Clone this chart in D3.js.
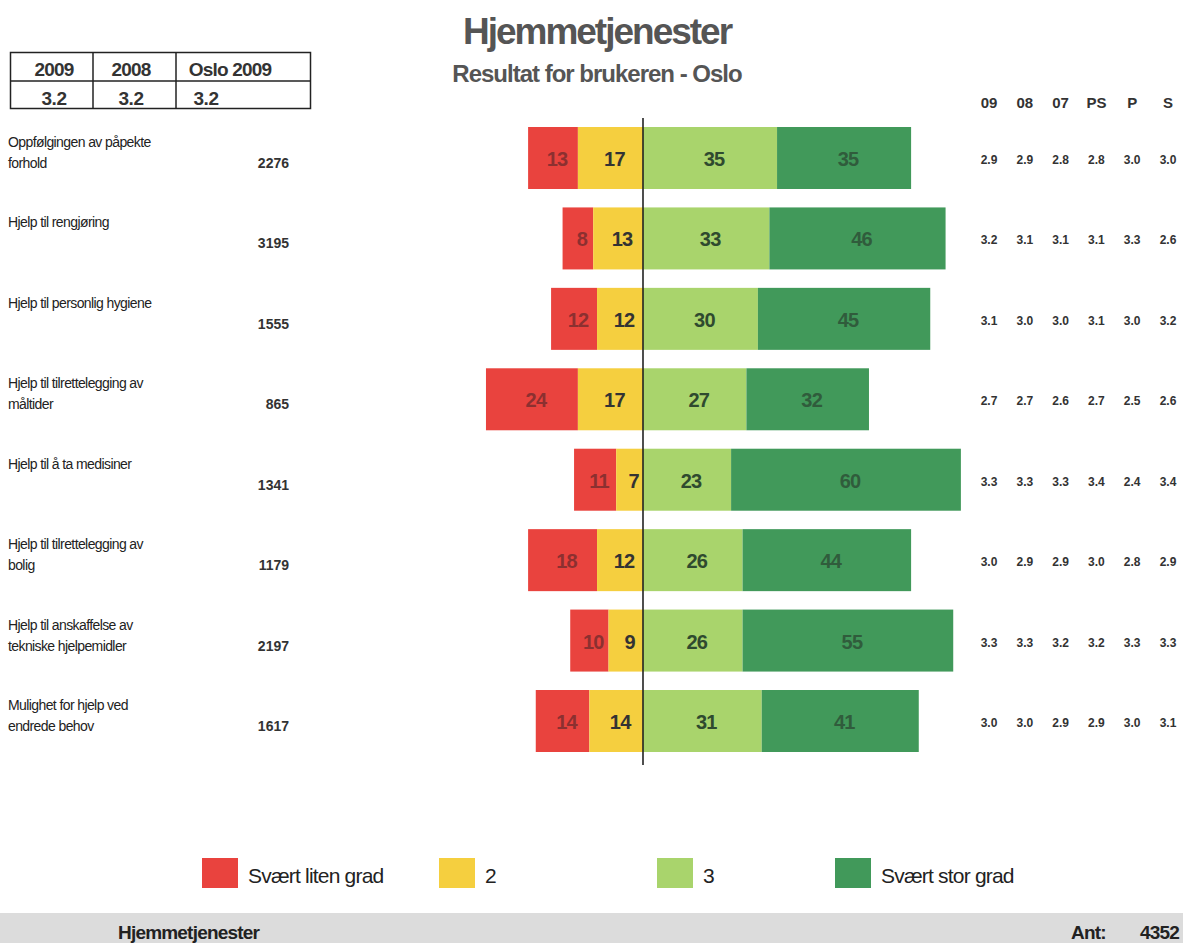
<!DOCTYPE html>
<html>
<head>
<meta charset="utf-8">
<script src="https://cdn.jsdelivr.net/npm/d3@7"></script>
<style>
  body { margin: 0; background: #fff; }
  svg text { font-family: "Liberation Sans", Arial, sans-serif; }
</style>
</head>
<body>
<div class="chart"></div>
<script>
// data
const labels = [
  ["Oppfølgingen av påpekte", "forhold"],
  ["Hjelp til rengjøring"],
  ["Hjelp til personlig hygiene"],
  ["Hjelp til tilrettelegging av", "måltider"],
  ["Hjelp til å ta medisiner"],
  ["Hjelp til tilrettelegging av", "bolig"],
  ["Hjelp til anskaffelse av", "tekniske hjelpemidler"],
  ["Mulighet for hjelp ved", "endrede behov"]
];
const counts = [2276, 3195, 1555, 865, 1341, 1179, 2197, 1617];
const red    = [13, 8, 12, 24, 11, 18, 10, 14];
const yellow = [17, 13, 12, 17, 7, 12, 9, 14];
const light  = [35, 33, 30, 27, 23, 26, 26, 31];
const dark   = [35, 46, 45, 32, 60, 44, 55, 41];
const colHeads = ["09", "08", "07", "PS", "P", "S"];
const colVals = [
  ["2.9", "2.9", "2.8", "2.8", "3.0", "3.0"],
  ["3.2", "3.1", "3.1", "3.1", "3.3", "2.6"],
  ["3.1", "3.0", "3.0", "3.1", "3.0", "3.2"],
  ["2.7", "2.7", "2.6", "2.7", "2.5", "2.6"],
  ["3.3", "3.3", "3.3", "3.4", "2.4", "3.4"],
  ["3.0", "2.9", "2.9", "3.0", "2.8", "2.9"],
  ["3.3", "3.3", "3.2", "3.2", "3.3", "3.3"],
  ["3.0", "3.0", "2.9", "2.9", "3.0", "3.1"]
];
const tableHeads = ["2009", "2008", "Oslo 2009"];
const tableVals = ["3.2", "3.2", "3.2"];
const legendNames = ["Svært liten grad", "2", "3", "Svært stor grad"];
const totalAnt = 4352;

const colors = ["#e9433e", "#f5cf3f", "#a9d46c", "#41995a"];
const textColors = ["#8c3030", "#333", "#2f4a2f", "#305c3c"];

const width = 1183, height = 943;
const svg = d3.select(".chart").append("svg")
  .attr("width", width).attr("height", height);

// scales
const x = d3.scaleLinear().domain([-40, 70]).range([489.8, 911.1]);
const y = d3.scalePoint().domain(d3.range(labels.length)).range([158, 721]);
const barH = 62;
const colX = d3.scalePoint().domain(colHeads).range([989, 1168]);

// titles
svg.append("text").attr("x", 597).attr("y", 44).attr("text-anchor", "middle")
  .attr("font-size", 37).attr("font-weight", "bold").attr("fill", "#555")
  .attr("letter-spacing", -2).text("Hjemmetjenester");
svg.append("text").attr("x", 597).attr("y", 82).attr("text-anchor", "middle")
  .attr("font-size", 24).attr("font-weight", "bold").attr("fill", "#555")
  .attr("letter-spacing", -1).text("Resultat for brukeren - Oslo");

// small table at top left
const tbl = svg.append("g");
tbl.append("rect").attr("x", 10.5).attr("y", 52.5).attr("width", 300).attr("height", 56)
  .attr("fill", "none").attr("stroke", "#222").attr("stroke-width", 1.5);
tbl.append("line").attr("x1", 10).attr("x2", 311).attr("y1", 81).attr("y2", 81)
  .attr("stroke", "#222").attr("stroke-width", 1.5);
[93, 176].forEach(v => tbl.append("line").attr("x1", v).attr("x2", v)
  .attr("y1", 52).attr("y2", 109).attr("stroke", "#222").attr("stroke-width", 1.5));
const tcx = [54, 131, 230];
tableHeads.forEach((t, i) => tbl.append("text").attr("x", tcx[i]).attr("y", 76)
  .attr("text-anchor", "middle").attr("font-size", 19).attr("font-weight", "bold")
  .attr("fill", "#333").attr("letter-spacing", -0.8).text(t));
const tvx = [54, 131, 206];
tableVals.forEach((t, i) => tbl.append("text").attr("x", tvx[i]).attr("y", 105)
  .attr("text-anchor", "middle").attr("font-size", 19).attr("font-weight", "bold")
  .attr("fill", "#333").attr("letter-spacing", -0.5).text(t));

// column headers on the right
svg.selectAll(".colhead").data(colHeads).enter().append("text")
  .attr("x", d => colX(d)).attr("y", 108).attr("text-anchor", "middle")
  .attr("font-size", 15).attr("font-weight", "bold").attr("fill", "#333").text(d => d);

// rows
const rows = svg.selectAll(".row").data(labels).enter().append("g")
  .attr("class", "row");

rows.each(function(lab, i) {
  const g = d3.select(this);
  const top = y(i) - barH / 2;
  lab.forEach((line, k) => g.append("text").attr("x", 8).attr("y", top + 20 + k * 21)
    .attr("font-size", 14).attr("fill", "#222").attr("letter-spacing", -0.6).text(line));
  g.append("text").attr("x", 289).attr("y", top + 41).attr("text-anchor", "end")
    .attr("font-size", 14).attr("font-weight", "bold").attr("fill", "#333").text(counts[i]);

  const segs = [
    [-(red[i] + yellow[i]), -yellow[i], red[i]],
    [-yellow[i], 0, yellow[i]],
    [0, light[i], light[i]],
    [light[i], light[i] + dark[i], dark[i]]
  ];
  segs.forEach((s, k) => {
    g.append("rect").attr("x", x(s[0])).attr("y", top)
      .attr("width", x(s[1]) - x(s[0])).attr("height", barH)
      .attr("fill", colors[k]);
    g.append("text").attr("x", (x(s[0]) + x(s[1])) / 2 + 4).attr("y", top + barH / 2 + 8)
      .attr("text-anchor", "middle").attr("font-size", 20).attr("font-weight", "bold")
      .attr("fill", textColors[k]).attr("letter-spacing", -0.8).text(s[2]);
  });

  colVals[i].forEach((v, k) => g.append("text").attr("x", colX(colHeads[k]))
    .attr("y", y(i) + 6).attr("text-anchor", "middle").attr("font-size", 12)
    .attr("font-weight", "bold").attr("fill", "#333").text(v));
});

// zero line
svg.append("line").attr("x1", x(0)).attr("x2", x(0)).attr("y1", 118).attr("y2", 765)
  .attr("stroke", "#222").attr("stroke-width", 1.6);

// legend
const legX = [202, 439, 657, 835];
legendNames.forEach((n, i) => {
  svg.append("rect").attr("x", legX[i]).attr("y", 858).attr("width", 36).attr("height", 30)
    .attr("fill", colors[i]);
  svg.append("text").attr("x", legX[i] + 46).attr("y", 883).attr("font-size", 21)
    .attr("fill", "#222").attr("letter-spacing", -0.8).text(n);
});

// footer band
svg.append("rect").attr("x", 0).attr("y", 913).attr("width", width).attr("height", 30)
  .attr("fill", "#dcdcdc");
svg.append("text").attr("x", 118).attr("y", 939).attr("font-size", 19).attr("font-weight", "bold")
  .attr("fill", "#222").attr("letter-spacing", -0.8).text("Hjemmetjenester");
svg.append("text").attr("x", 1071).attr("y", 939).attr("font-size", 19).attr("font-weight", "bold")
  .attr("fill", "#222").attr("letter-spacing", -0.8).text("Ant:");
svg.append("text").attr("x", 1140).attr("y", 939).attr("font-size", 19).attr("font-weight", "bold")
  .attr("fill", "#222").attr("letter-spacing", -0.8).text(totalAnt);
</script>
</body>
</html>
